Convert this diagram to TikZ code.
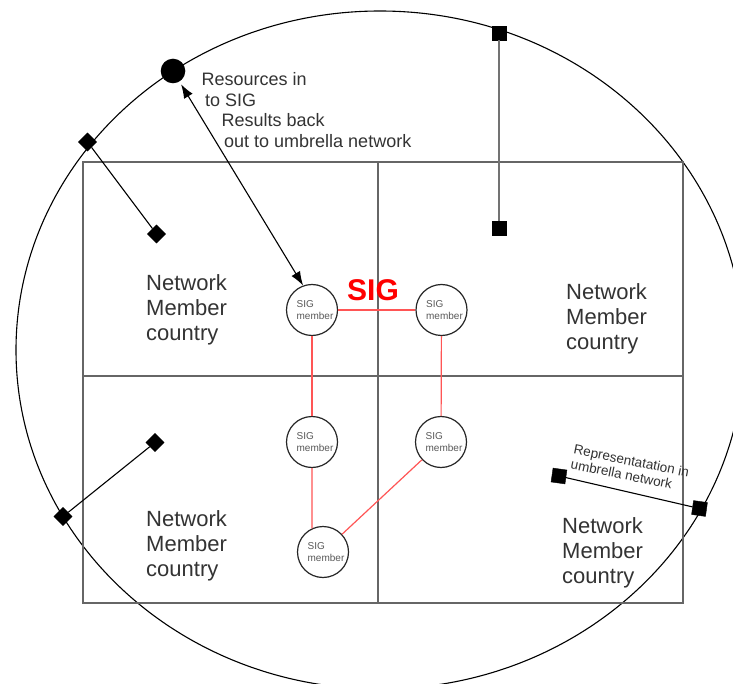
\documentclass[tikz,border=0pt]{standalone}
\usepackage{fontspec}
\setmainfont{Liberation Sans}
\usetikzlibrary{arrows.meta}
\definecolor{txt}{HTML}{333333}
\definecolor{framecol}{HTML}{666666}
\definecolor{sigred}{HTML}{FF5555}
\begin{document}
\begin{tikzpicture}[x=1pt,y=-1pt,
  country/.style={anchor=base west, align=left, text=txt, font=\fontsize{22}{25}\selectfont, inner sep=0pt},
  member/.style={circle, draw=black!85, line width=1.2pt, minimum size=51pt, inner sep=0pt},
  memtext/.style={align=left, text=black!65, font=\fontsize{10}{12.5}\selectfont, inner sep=0pt, xshift=3pt},
  redlink/.style={draw=sigred, line width=1.2pt},
  sqbox/.style={draw=black, fill=black, minimum size=14pt, inner sep=0pt},
  diabox/.style={draw=black, fill=black, minimum size=13pt, inner sep=0pt, rotate=45},
  link/.style={draw=black, line width=1.1pt},
  greylink/.style={draw=black!55, line width=1.5pt}]
\useasboundingbox (0,0) rectangle (733,684);
\clip (0,0) rectangle (733,684);
\fill[white] (0,0) rectangle (733,684);
% umbrella network
\draw[line width=1.1pt] (380,350) ellipse [x radius=364, y radius=339];
% countries frame
\draw[framecol, line width=1.4pt] (83,162) rectangle (683,603)
  (378,162) -- (378,603) (83,376) -- (683,376);
% country labels (base anchor = last line)
\node[country] (c1) at (146,341) {Network\\Member\\country};
\node[country] (c2) at (566,349) {Network\\Member\\country};
\node[country] (c3) at (146,576) {Network\\Member\\country};
\node[country] (c4) at (562,583) {Network\\Member\\country};
% SIG members
\node[member, label={[memtext]center:{SIG\\member}}] (m1) at (312,310) {};
\node[member, label={[memtext]center:{SIG\\member}}] (m2) at (441.5,310) {};
\node[member, label={[memtext]center:{SIG\\member}}] (m3) at (312,442) {};
\node[member, label={[memtext]center:{SIG\\member}}] (m4) at (441,442) {};
\node[member, label={[memtext]center:{SIG\\member}}] (m5) at (323,552) {};
\draw[redlink] (m1) -- (m2);
\draw[redlink] (m1) -- (m3);
\draw[redlink] (m2) -- (m4);
\draw[redlink] (m3) -- (m5.115);
\draw[redlink] (m4) -- (m5);
\node[anchor=base, text=red, font=\bfseries\fontsize{30}{36}\selectfont, inner sep=0pt] (sig) at (373,300.7) {SIG};
% resources link
\node[circle, fill=black, minimum size=24.6pt, inner sep=0pt] (dot) at (173,71) {};
\draw[link, {Latex[length=14pt,width=10pt]}-{Latex[length=14pt,width=10pt]}, shorten <=3pt] (dot) -- (m1.110);
\node[anchor=base west, align=left, text=txt, font=\fontsize{18}{20.5}\selectfont, inner sep=0pt] (res) at (201.5,147.5)
  {Resources in\\\hspace*{3.5pt}to SIG\\\hspace*{20pt}Results back\\\hspace*{22.5pt}out to umbrella network};
% other links
\node[sqbox] (t1) at (499,33) {};
\node[sqbox] (t2) at (499,228) {};
\draw[greylink] (t1) -- (t2);
\node[diabox] (d1) at (87.5,142) {};
\node[diabox] (d2) at (156.5,234) {};
\draw[link] (d1) -- (d2);
\node[diabox] (d3) at (155,442.5) {};
\node[diabox] (d4) at (63,516.5) {};
\draw[link] (d3) -- (d4);
\node[sqbox, rotate=-8] (r1) at (559,476) {};
\node[sqbox, rotate=-8] (r2) at (699.5,508.5) {};
\draw[link] (r1) -- (r2);
\node[anchor=base west, align=left, text=txt, font=\fontsize{13.5}{15}\selectfont, inner sep=0pt, rotate=-11.5] (rep) at (570,468.5)
  {Representatation in\\umbrella network};
\end{tikzpicture}
\end{document}
